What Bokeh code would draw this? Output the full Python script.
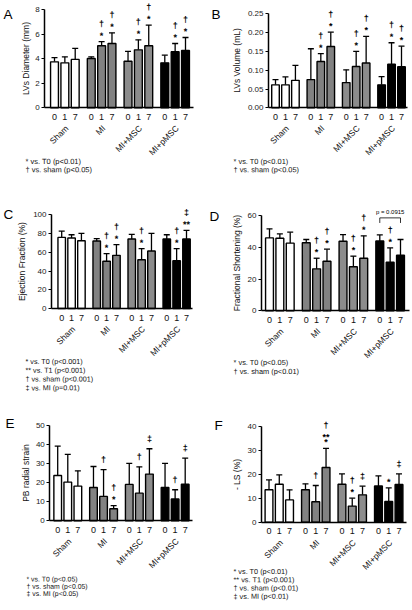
import math
from bokeh.plotting import figure
from bokeh.models import (ColumnDataSource, Whisker, TeeHead, FixedTicker, Range1d,
                          NumeralTickFormatter, CustomJSTickFormatter)
from bokeh.layouts import column, row
from bokeh.core.properties import value
from bokeh.embed import file_html
from bokeh.resources import INLINE

# ---------------- data ----------------
groups = ["Sham", "MI", "MI+MSC", "MI+pMSC"]
times = ["0", "1", "7"]
group_colors = ["#ffffff", "#828282", "#8c8c8c", "#000000"]

A_mean = [3.75, 3.67, 3.95, 4.03, 5.06, 5.25, 3.80, 4.73, 5.06, 3.67, 4.57, 4.68]
A_sd = [0.35, 0.49, 0.90, 0.13, 0.34, 0.87, 0.80, 0.82, 1.69, 0.63, 0.68, 1.06]
B_mean = [0.061, 0.061, 0.073, 0.075, 0.123, 0.163, 0.067, 0.110, 0.119, 0.061, 0.116, 0.109]
B_sd = [0.014, 0.021, 0.040, 0.082, 0.021, 0.038, 0.034, 0.040, 0.071, 0.022, 0.057, 0.055]
C_mean = [75.9, 75.2, 72.3, 72.0, 50.4, 56.7, 74.1, 52.1, 61.3, 74.1, 51.0, 74.1]
C_sd = [6.7, 3.5, 7.8, 2.5, 8.1, 11.4, 5.0, 11.7, 18.8, 4.6, 12.8, 9.2]
D_mean = [45.9, 45.7, 42.6, 42.8, 26.4, 31.2, 43.8, 27.7, 33.1, 44.0, 30.6, 35.0]
D_sd = [5.7, 2.7, 6.9, 2.1, 6.7, 7.6, 4.2, 6.7, 14.1, 3.8, 9.0, 9.9]
E_mean = [23.8, 20.3, 18.2, 17.5, 12.8, 6.3, 19.1, 14.5, 24.5, 17.5, 11.4, 19.2]
E_sd = [15.4, 14.5, 8.0, 11.0, 14.1, 1.7, 11.0, 13.8, 13.3, 12.6, 4.9, 13.7]
F_mean = [13.5, 15.8, 9.3, 13.5, 8.5, 22.8, 15.8, 6.7, 11.4, 15.1, 8.6, 15.7]
F_sd = [4.1, 3.9, 4.2, 2.5, 6.8, 8.0, 4.3, 3.3, 3.6, 4.2, 5.7, 4.4]

# significance marks per bar, listed bottom to top
A_marks = [[], [], [], [], ["*", "†"], ["*", "†"], [], ["*", "†"], ["*", "†"], [], ["*", "†"], ["*", "†"]]
B_marks = [[], [], [], [], ["*", "†"], ["*", "†"], [], ["*", "†"], ["*", "†"], [], ["*", "†"], ["*", "†"]]
C_marks = [[], [], [], [], ["*", "†"], ["*", "†"], [], ["*", "†"], [], [], ["*", "†"], ["**", "‡"]]
D_marks = [[], [], [], [], ["*", "†"], ["*", "†"], [], ["*", "†"], ["*", "†"], [], ["*", "†"], []]
E_marks = [[], [], [], [], ["†"], ["*", "†"], [], ["†"], ["‡"], [], ["†"], ["‡"]]
F_marks = [[], [], [], [], ["†"], ["*", "**", "†"], [], ["*", "†"], ["‡"], [], ["*"], ["‡"]]

A_notes = ["* vs. T0 (p<0.01)", "† vs. sham (p<0.05)"]
B_notes = ["* vs. T0 (p<0.01)", "† vs. sham (p<0.05)"]
C_notes = ["* vs. T0 (p<0.001)", "** vs. T1 (p<0.001)", "† vs. sham (p<0.001)", "‡ vs. MI (p=0.01)"]
D_notes = ["* vs. T0 (p<0.05)", "† vs. sham (p<0.01)"]
E_notes = ["* vs. T0 (p<0.05)", "† vs. sham (p<0.05)", "‡ vs. MI (p<0.05)"]
F_notes = ["* vs. T0 (p<0.01)", "** vs. T1 (p<0.001)", "† vs. sham (p<0.01)", "‡ vs. MI (p<0.01)"]

D_bracket_label = "p = 0.0915"
D_bracket_level = 58.5
D_bracket_leg = 55.3

FONT = "Liberation Sans"
GPAD = 0.55
BAR_W = 0.76
TILT = 0.002  # tiny rotation: keeps small glyphs grey-scale antialiased
xpos = [gi * (3 + GPAD) + ti for gi in range(len(groups)) for ti in range(len(times))]
gpos = [gi * (3 + GPAD) + 1 for gi in range(len(groups))]
tick_labels = [t for g in groups for t in times]
bar_colors = [group_colors[i // 3] for i in range(12)]


def make_panel(letter, ylabel, ymax, ystep, fmt, means, sds, marks, notes, geom):
    (figx, figy, W, H, c0, cl, yax_px, xend_px, y0, ytop,
     note_x, note_y, note_sp, note_fs, let_x, let_y, ylab_stand) = geom
    u = (cl - c0) / (xpos[-1] - xpos[0])
    ppu = (y0 - ytop) / ymax

    def X(px):
        return (px - c0) / u

    def Y(py):
        return (y0 - py) / ppu

    p = figure(x_range=Range1d(X(figx), X(figx + W)), y_range=Range1d(Y(figy + H), Y(figy)),
               width=W, height=H, output_backend="svg", toolbar_location=None,
               min_border=0, min_border_left=0, min_border_right=0,
               min_border_top=0, min_border_bottom=0)
    p.outline_line_color = None
    p.xgrid.grid_line_color = None
    p.ygrid.grid_line_color = None
    p.background_fill_color = "white"
    p.border_fill_color = "white"

    tops = [m + s for m, s in zip(means, sds)]
    src = ColumnDataSource(dict(x=xpos, mean=means, top=tops, color=bar_colors))
    p.vbar(x="x", top="mean", bottom=0, width=BAR_W, source=src,
           fill_color="color", line_color="black", line_width=1.4)
    p.add_layout(Whisker(base="x", lower="mean", upper="top", source=src,
                         line_color="black", line_width=1.3, lower_head=None,
                         upper_head=TeeHead(size=6, line_color="black", line_width=1.3)))

    # significance marks
    mx, my, mt, mo = [], [], [], []
    for i, ms in enumerate(marks):
        off = 0
        prev = None
        for m in ms:
            star = m.startswith("*")
            if prev is None:
                off += 1 if star else 5
            elif star and prev:
                off += 5
            else:
                off += 12
            mx.append(xpos[i]); my.append(tops[i]); mt.append(m); mo.append(-off)
            prev = star
    if mt:
        p.text(x="x", y="y", text="t", y_offset="o", angle=TILT,
               source=ColumnDataSource(dict(x=mx, y=my, t=mt, o=mo)),
               text_align="center", text_baseline="bottom",
               text_font=value(FONT), text_font_size="9px", text_font_style="bold",
               text_color="black")

    # y axis
    ax = p.yaxis[0]
    ax.fixed_location = X(yax_px)
    ax.ticker = FixedTicker(ticks=[round(i * ystep, 6) for i in range(int(round(ymax / ystep)) + 1)])
    ax.bounds = (0, ymax)
    if fmt:
        ax.formatter = NumeralTickFormatter(format=fmt)
    ax.axis_label = ylabel
    ax.axis_label_text_font = FONT
    ax.axis_label_text_font_size = "8.5px"
    ax.axis_label_text_font_style = "normal"
    ax.axis_label_text_color = "#111"
    ax.axis_label_standoff = ylab_stand
    ax.major_label_text_font = FONT
    ax.major_label_text_font_size = "8px"
    ax.major_label_text_color = "#222"
    ax.major_label_standoff = 2
    ax.major_tick_out = 3
    ax.major_tick_in = 0
    ax.minor_tick_line_color = None
    ax.axis_line_width = 1.5
    ax.major_tick_line_width = 1.2

    # x axis
    bx = p.xaxis[0]
    bx.fixed_location = 0
    bx.bounds = (X(yax_px), X(xend_px))
    bx.ticker = FixedTicker(ticks=xpos)
    bx.formatter = CustomJSTickFormatter(args=dict(labs=tick_labels), code="return labs[index];")
    bx.axis_line_width = 1.5
    bx.major_tick_line_color = None
    bx.major_tick_out = 0
    bx.major_tick_in = 0
    bx.minor_tick_line_color = None
    bx.major_label_text_font = FONT
    bx.major_label_text_font_size = "9px"
    bx.major_label_text_color = "#111"
    bx.major_label_standoff = 6

    # rotated group labels
    p.text(x=[g + 0.2 for g in gpos], y=[Y(y0 + 19)] * len(groups), text=groups,
           angle=math.pi / 4, text_align="right", text_baseline="middle",
           text_font=value(FONT), text_font_size="8.5px", text_color="#111")

    # panel letter
    p.text(x=[X(let_x)], y=[Y(let_y)], text=[letter], text_align="left",
           text_baseline="middle", text_font=value(FONT), text_font_size="13.5px",
           text_color="black")
    # footnotes
    p.text(x=[X(note_x)] * len(notes), y=[Y(note_y + j * note_sp) for j in range(len(notes))],
           text=notes, text_align="left", text_baseline="middle", angle=TILT,
           text_font=value(FONT), text_font_size=note_fs, text_color="#111")
    return p


#        figx figy  W    H    c0     cl     yax    xend   y0     ytop   nx   ny     nsp  nfs     lx   ly   ls
geomA = (0, 0, 206, 205, 54.0, 185.0, 44.3, 193.0, 107.3, 9.3, 25, 161, 8.3, "7.5px", 3, 14, 1)
geomB = (206, 0, 206, 205, 275.0, 401.0, 268.0, 407.0, 107.3, 13.3, 233, 161, 8.3, "7.4px", 211, 14, 3)
geomC = (0, 205, 206, 200, 61.2, 186.0, 51.0, 192.0, 308.0, 214.3, 25, 361, 8.8, "7.2px", 3, 214, 3)
geomD = (206, 205, 206, 200, 269.0, 400.0, 261.0, 409.0, 310.3, 215.0, 233, 362, 9.0, "7.4px", 209, 216, 3)
geomE = (0, 405, 206, 205, 57.2, 184.7, 49.3, 192.0, 520.3, 425.0, 26, 578.5, 7.3, "6.9px", 5, 423, 2)
geomF = (206, 405, 206, 205, 268.5, 398.5, 261.0, 405.5, 521.7, 425.7, 233, 571, 8.3, "7.3px", 214, 425, 3)

pA = make_panel("A", "LVs Diameter (mm)", 8, 2, None, A_mean, A_sd, A_marks, A_notes, geomA)
pB = make_panel("B", "LVs Volume (mL)", 0.25, 0.05, "0.00", B_mean, B_sd, B_marks, B_notes, geomB)
pC = make_panel("C", "Ejection Fraction (%)", 100, 20, None, C_mean, C_sd, C_marks, C_notes, geomC)
pD = make_panel("D", "Fractional Shortening (%)", 60, 20, None, D_mean, D_sd, D_marks, D_notes, geomD)
pE = make_panel("E", "PB radial strain", 50, 10, None, E_mean, E_sd, E_marks, E_notes, geomE)
pF = make_panel("F", "- LS (%)", 40, 10, None, F_mean, F_sd, F_marks, F_notes, geomF)

# bracket in panel D (over the MI+pMSC group)
b0, b1, b2 = xpos[9], xpos[10], xpos[11]
pD.line(x=[b0, b0, b2, b2], y=[D_bracket_leg, D_bracket_level, D_bracket_level, D_bracket_leg],
        line_color="black", line_width=0.8)
pD.text(x=[b1], y=[D_bracket_level], text=[D_bracket_label], y_offset=-3,
        text_align="center", text_baseline="bottom", text_font=value(FONT),
        text_font_size="6px", text_color="black")

layout = column(row(pA, pB), row(pC, pD), row(pE, pF))
open("out.html", "w").write(file_html(layout, INLINE))
